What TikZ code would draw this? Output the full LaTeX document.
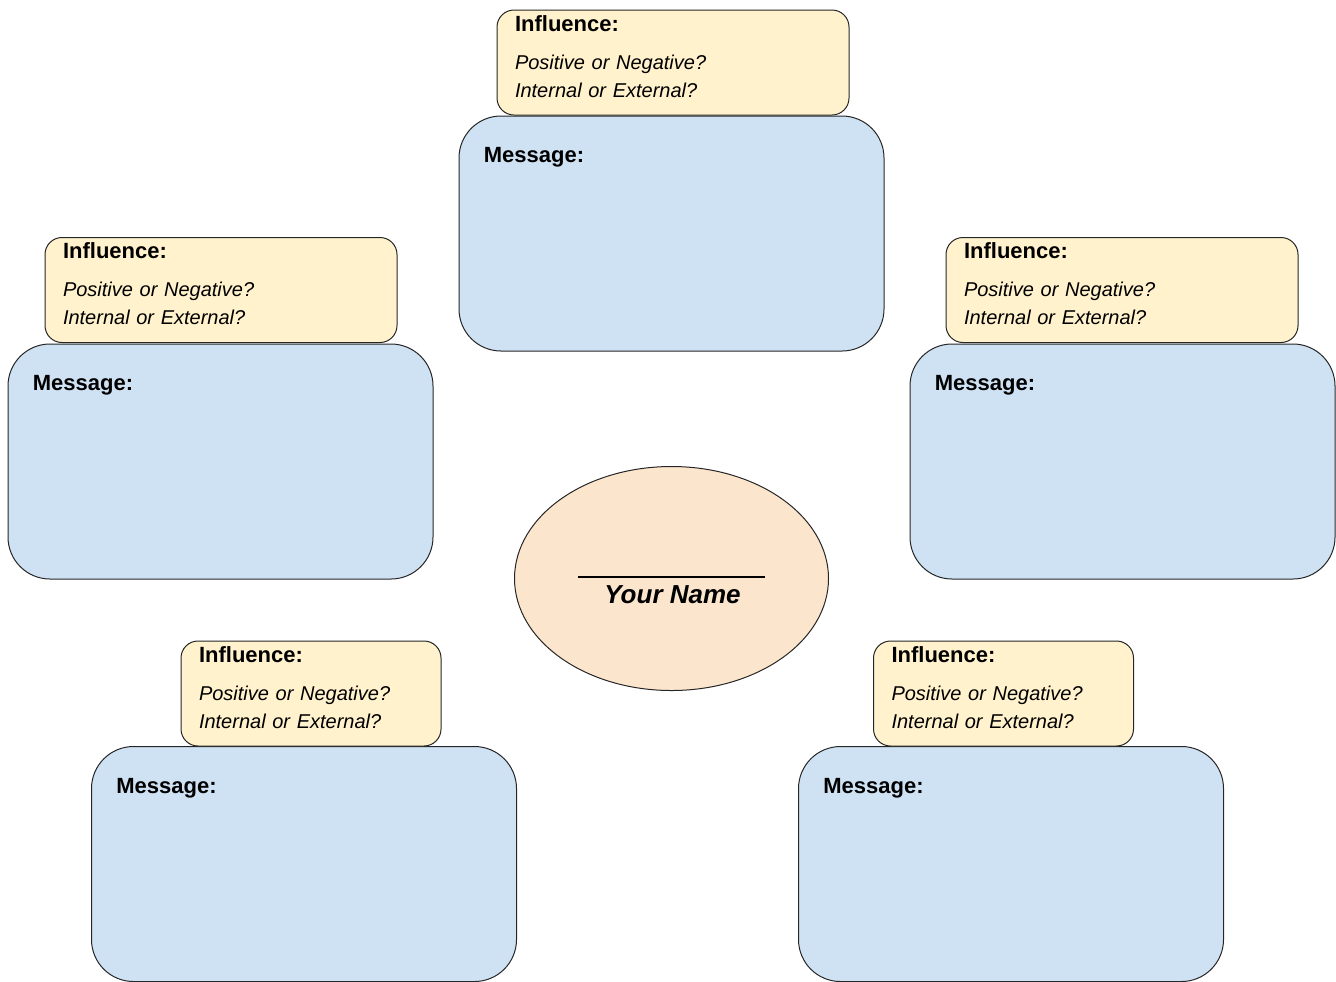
\documentclass[tikz,border=0pt]{standalone}
\usepackage{fontspec}
\setmainfont{Liberation Sans}
\usepackage{xcolor}
\usepackage{tikz}
\usetikzlibrary{shapes.geometric, positioning}

\definecolor{inflfill}{HTML}{FFF2CC}
\definecolor{msgfill}{HTML}{CFE2F3}
\definecolor{namefill}{HTML}{FCE5CD}

\tikzset{
  influence/.style={draw=black!85, line width=0.5pt, fill=inflfill, rounded corners=8.5pt,
    align=left, inner xsep=9pt, inner ysep=2pt, text width=158pt, text depth=39pt,
    minimum height=52.5pt, font=\fontsize{10}{14}\selectfont},
  message/.style={draw=black!85, line width=0.5pt, fill=msgfill, rounded corners=21pt,
    minimum width=212.5pt, minimum height=117.5pt},
  msglabel/.style={anchor=base west, inner sep=0pt, font=\fontsize{11}{13.5}\selectfont\bfseries}
}

\newcommand{\infltext}{{\fontsize{11}{14}\selectfont\bfseries Influence:}\\[5pt]\textit{Positive or Negative?}\\\textit{Internal or External?}}

\begin{document}
\begin{tikzpicture}[x=0.5pt, y=-0.5pt]
  \useasboundingbox (0,0) rectangle (1336,981);

  % message boxes
  \node[message] (msgT) at (671.5,233.5) {};
  \node[message] (msgL) at (220.5,461.5) {};
  \node[message] (msgR) at (1122.5,461.5) {};
  \node[message] (msgBL) at (304,864) {};
  \node[message] (msgBR) at (1011,864) {};

  \node[msglabel] (lblT) at ([xshift=12.5pt,yshift=-23.5pt]msgT.north west) {Message:};
  \node[msglabel] (lblL) at ([xshift=12.5pt,yshift=-23.5pt]msgL.north west) {Message:};
  \node[msglabel] (lblR) at ([xshift=12.5pt,yshift=-23.5pt]msgR.north west) {Message:};
  \node[msglabel] (lblBL) at ([xshift=12.5pt,yshift=-23.5pt]msgBL.north west) {Message:};
  \node[msglabel] (lblBR) at ([xshift=12.5pt,yshift=-23.5pt]msgBR.north west) {Message:};

  % influence boxes
  \node[influence] (inflT) at (673,62.5) {\infltext};
  \node[influence] (inflL) at (221,290) {\infltext};
  \node[influence] (inflR) at (1122,290) {\infltext};
  \node[influence, text width=112pt] (inflBL) at (311,693.5) {\infltext};
  \node[influence, text width=112pt] (inflBR) at (1003.5,693.5) {\infltext};

  % centre
  \node[ellipse, draw=black!85, line width=0.5pt, fill=namefill, minimum width=157pt, minimum height=112pt] (self) at (671.5,578.5) {};
  \coordinate (lineL) at (578,577);
  \coordinate (lineR) at (765,577);
  \draw[line width=0.6pt] (lineL) -- (lineR);
  \node[anchor=base, inner sep=0pt, font=\fontsize{13}{15}\selectfont\bfseries\itshape] (yourname) at (672.5,603) {Your Name};
\end{tikzpicture}
\end{document}
